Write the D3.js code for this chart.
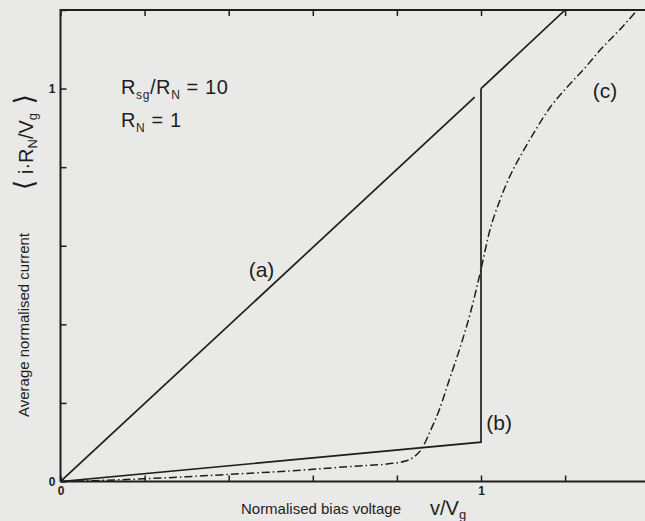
<!DOCTYPE html>
<html>
  <head>
    <meta charset="utf-8">
    <title></title>
  </head>
  <style>
  body{
    margin: 0;
    background: #e9e9e7;
    font-family: "Liberation Sans", Arial, sans-serif;
  }
  svg { display: block; }
  .axis path { display: none; }
  .axis .tick line { stroke: #1e1e1e; stroke-width: 1.5; }
  .axis .tick text { font-size: 12px; fill: #1e1e1e; font-weight: bold; }
  </style>
  <script src="https://d3js.org/d3.v7.min.js"></script>
  <body>
    <script>
    // tick values
    var xTicks = [0, 0.2, 0.4, 0.6, 0.8, 1, 1.2]
    var yTicks = [0, 0.2, 0.4, 0.6, 0.8, 1, 1.2]
    var tickLabels = [0, 1]

    // (a) ohmic line below the gap
    var aV = [0, 0.985]
    var aI = [0, 0.978]
    // (a)/(b) shared branch above v = Vg
    var upV = [1, 1.2, 1.4]
    var upI = [1, 1.2, 1.4]
    // (b) sub-gap line and jump
    var bV = [0, 1, 1]
    var bI = [0, 0.1, 1]
    // (c) smeared curve
    var cV = [0, 0.1, 0.2, 0.3, 0.4, 0.5, 0.6, 0.7, 0.78, 0.82, 0.84, 0.86, 0.88, 0.9, 0.925, 0.95, 0.975, 1.0, 1.02, 1.045, 1.07, 1.1, 1.13, 1.165, 1.205, 1.245, 1.285, 1.33, 1.372]
    var cI = [0, 0.003, 0.007, 0.012, 0.018, 0.024, 0.031, 0.039, 0.045, 0.052, 0.062, 0.085, 0.13, 0.18, 0.26, 0.34, 0.43, 0.54, 0.635, 0.716, 0.78, 0.84, 0.895, 0.953, 1.004, 1.05, 1.1, 1.15, 1.2]

    var width = 645, height = 521
    var padLeft = 60.5, padTop = 10, axisBottom = 481.5

    var svg = d3.select("body").append("svg")
                .attr("width", width)
                .attr("height", height)

    var x = d3.scaleLinear().domain([0, 1.4]).range([padLeft, padLeft + 1.4 * 420.5])
    var y = d3.scaleLinear().domain([0, 1.2]).range([axisBottom, padTop])

    svg.append("clipPath").attr("id", "plot")
       .append("rect")
       .attr("x", x(0)).attr("y", y(1.2))
       .attr("width", x(1.4) - x(0)).attr("height", y(0) - y(1.2))

    function fmt(d){ return tickLabels.indexOf(d) >= 0 ? d : "" }

    // bottom axis, ticks inward
    svg.append("g").attr("class", "axis")
       .attr("transform", "translate(0," + y(0) + ")")
       .call(d3.axisBottom(x).tickValues(xTicks).tickSizeInner(-6).tickSizeOuter(0).tickPadding(5).tickFormat(fmt))
    // top axis
    svg.append("g").attr("class", "axis")
       .attr("transform", "translate(0," + y(1.2) + ")")
       .call(d3.axisTop(x).tickValues(xTicks).tickSizeInner(-6).tickSizeOuter(0).tickFormat(""))
    // left axis
    svg.append("g").attr("class", "axis")
       .attr("transform", "translate(" + x(0) + ",0)")
       .call(d3.axisLeft(y).tickValues(yTicks).tickSizeInner(-6).tickSizeOuter(0).tickPadding(5).tickFormat(fmt))

    // frame
    svg.append("path")
       .attr("d", "M" + x(0) + "," + y(0) + "V" + y(1.2) + "H" + (width + 5))
       .attr("fill", "none").attr("stroke", "#1e1e1e").attr("stroke-width", 2)
    svg.append("line")
       .attr("x1", x(0)).attr("x2", width + 5)
       .attr("y1", y(0)).attr("y2", y(0))
       .attr("stroke", "#1e1e1e").attr("stroke-width", 2)

    var line = d3.line().x(function(d){ return x(d[0]) }).y(function(d){ return y(d[1]) })
    var smooth = d3.line().curve(d3.curveMonotoneX).x(function(d){ return x(d[0]) }).y(function(d){ return y(d[1]) })

    var curves = svg.append("g").attr("clip-path", "url(#plot)")
                    .attr("fill", "none").attr("stroke", "#1e1e1e").attr("stroke-width", 1.7)

    curves.append("path").attr("d", line(d3.zip(aV, aI)))
    curves.append("path").attr("d", line(d3.zip(upV, upI)))
    curves.append("path").attr("d", line(d3.zip(bV, bI)))
    curves.append("path").attr("d", smooth(d3.zip(cV, cI)))
          .attr("stroke-width", 1.5)
          .attr("stroke-dasharray", "8,3,1.5,3")

    // annotations
    var t1 = svg.append("text").attr("x", 121).attr("y", 94).attr("font-size", 20)
               .attr("letter-spacing", 0.6).attr("fill", "#1e1e1e")
    t1.append("tspan").text("R")
    t1.append("tspan").text("sg").attr("font-size", 12).attr("dy", 5)
    t1.append("tspan").text("/R").attr("dy", -5)
    t1.append("tspan").text("N").attr("font-size", 12).attr("dy", 5)
    t1.append("tspan").text(" = 10").attr("dy", -5)

    var t2 = svg.append("text").attr("x", 121).attr("y", 127).attr("font-size", 20)
               .attr("letter-spacing", 0.6).attr("fill", "#1e1e1e")
    t2.append("tspan").text("R")
    t2.append("tspan").text("N").attr("font-size", 12).attr("dy", 5)
    t2.append("tspan").text(" = 1").attr("dy", -5)

    var marks = [["(a)", 0.478, 0.52], ["(b)", 1.043, 0.13], ["(c)", 1.295, 0.975]]
    svg.selectAll(".lbl").data(marks).enter().append("text")
       .attr("class", "lbl")
       .attr("x", function(d){ return x(d[1]) })
       .attr("y", function(d){ return y(d[2]) })
       .attr("text-anchor", "middle")
       .attr("font-size", 21).attr("fill", "#1e1e1e")
       .text(function(d){ return d[0] })

    // x title
    svg.append("text").attr("x", 321).attr("y", 514).attr("text-anchor", "middle")
       .attr("font-size", 15).attr("fill", "#1e1e1e").text("Normalised bias voltage")
    var xv = svg.append("text").attr("x", 430).attr("y", 515).attr("font-size", 20).attr("fill", "#1e1e1e")
    xv.append("tspan").text("v/V")
    xv.append("tspan").text("g").attr("font-size", 13).attr("dy", 4)

    // y title
    svg.append("text").attr("transform", "translate(29,325) rotate(-90)")
       .attr("text-anchor", "middle").attr("font-size", 15).attr("fill", "#1e1e1e")
       .text("Average normalised current")
    var yv = svg.append("text").attr("transform", "translate(33,142) rotate(-90)")
       .attr("text-anchor", "middle").attr("font-size", 20).attr("fill", "#1e1e1e")
    yv.append("tspan").text("\u27E8").attr("font-size", 27).attr("font-family", "DejaVu Sans")
    yv.append("tspan").text(" i\u00B7R")
    yv.append("tspan").text("N").attr("font-size", 13).attr("dy", 4)
    yv.append("tspan").text("/V").attr("dy", -4)
    yv.append("tspan").text("g").attr("font-size", 13).attr("dy", 4)
    yv.append("tspan").text(" \u27E9").attr("font-size", 27).attr("font-family", "DejaVu Sans").attr("dy", -4)
    </script>
  </body>
</html>
